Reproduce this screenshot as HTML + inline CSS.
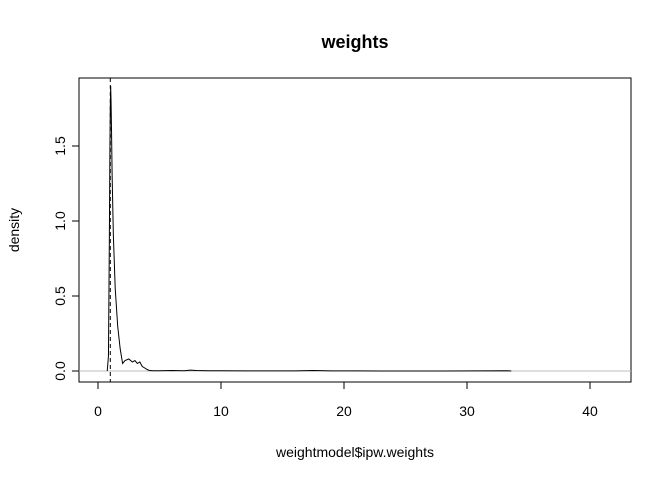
<!DOCTYPE html>
<html><head><meta charset="utf-8"><style>
body{margin:0;background:#fff;}
svg text{font-family:"Liberation Sans",Arial,sans-serif;}
</style></head><body>
<svg id="chart" width="672" height="480" xmlns="http://www.w3.org/2000/svg">
<rect width="672" height="480" fill="#fff"/>
<text x="355" y="48" font-size="18" font-weight="bold" text-anchor="middle">weights</text>
<rect x="79" y="78" width="552" height="304" fill="none" stroke="#000" stroke-width="1"/>
<g id="xaxis"></g>
<g id="yaxis"></g>
<text x="355" y="457" font-size="14" text-anchor="middle">weightmodel$ipw.weights</text>
<text x="19" y="230" font-size="14" text-anchor="middle" transform="rotate(-90 19 230)">density</text>
<g id="marks"></g>
</svg>
<script>
const xTicks=[0,10,20,30,40];
const yTicks=[0,0.5,1,1.5];
const yTickLabels=["0.0","0.5","1.0","1.5"];
const densX=[0.75,0.85,0.92,0.97,1.0,1.03,1.06,1.1,1.15,1.25,1.4,1.6,1.8,2.0,2.2,2.5,2.8,3.0,3.2,3.4,3.6,3.8,4.0,4.2,4.5,5,6,7,7.5,8,9,10,12,14,16,17.5,19,21,24,28,33.3,33.6];
const densY=[0.0,0.1,0.85,1.5,1.75,1.9,1.8,1.6,1.3,0.9,0.55,0.3,0.15,0.05,0.07,0.08,0.06,0.07,0.05,0.06,0.03,0.02,0.01,0.003,0.002,0.002,0.003,0.002,0.006,0.003,0.002,0.002,0.001,0.001,0.001,0.003,0.001,0.001,0.0,0.0,0.002,0.0];
const vlineX=1.0;
const NS="http://www.w3.org/2000/svg";
const sx=v=>98+v*12.3, sy=v=>371-v*150;
const svg=document.getElementById('chart');
function mk(tag,attrs,parent){const e=document.createElementNS(NS,tag);for(const k in attrs)e.setAttribute(k,attrs[k]);(parent||svg).appendChild(e);return e;}
const xa=document.getElementById('xaxis'), ya=document.getElementById('yaxis'), marks=document.getElementById('marks');
mk('line',{x1:sx(0),x2:sx(40),y1:382,y2:382,stroke:'#000'},xa);
xTicks.forEach(t=>{
 const l=mk('line',{x1:sx(t),x2:sx(t),y1:382,y2:389,stroke:'#000'},xa);
 
 
 const tx=mk('text',{x:sx(t),y:416,'font-size':14,'text-anchor':'middle'},xa);tx.textContent=t;
 
 
});
mk('line',{x1:79,x2:79,y1:sy(0),y2:sy(1.5),stroke:'#000'},ya);
yTicks.forEach((t,i)=>{
 const l=mk('line',{x1:72,x2:79,y1:sy(t),y2:sy(t),stroke:'#000'},ya);
 
 
 const tx=mk('text',{x:65,y:sy(t),'font-size':14,'text-anchor':'middle',transform:`rotate(-90 65 ${sy(t)})`},ya);tx.textContent=yTickLabels[i];
 
 
});
const zl=mk('line',{x1:79,x2:631,y1:sy(0),y2:sy(0),stroke:'#bebebe'},marks);


const p=mk('polyline',{points:densX.map((x,i)=>sx(x)+','+sy(densY[i])).join(' '),fill:'none',stroke:'#000','stroke-width':1},marks);


const vl=mk('line',{x1:sx(vlineX),x2:sx(vlineX),y1:78,y2:382,stroke:'#000','stroke-dasharray':'4,3'},marks);


</script>
</body></html>
